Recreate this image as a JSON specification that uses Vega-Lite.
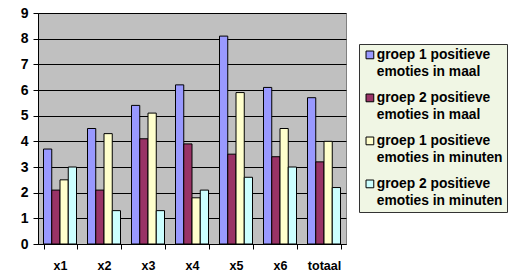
{
  "$schema": "https://vega.github.io/schema/vega-lite/v6.json",
  "autosize": "none",
  "width": 308,
  "height": 231,
  "padding": {"left": 38, "top": 13, "right": 175, "bottom": 27},
  "background": "white",
  "data": {
    "values": [
      {"cat": "x1", "serie": "groep 1 positieve emoties in maal", "v": 3.7},
      {"cat": "x1", "serie": "groep 2 positieve emoties in maal", "v": 2.1},
      {"cat": "x1", "serie": "groep 1 positieve emoties in minuten", "v": 2.5},
      {"cat": "x1", "serie": "groep 2 positieve emoties in minuten", "v": 3.0},
      {"cat": "x2", "serie": "groep 1 positieve emoties in maal", "v": 4.5},
      {"cat": "x2", "serie": "groep 2 positieve emoties in maal", "v": 2.1},
      {"cat": "x2", "serie": "groep 1 positieve emoties in minuten", "v": 4.3},
      {"cat": "x2", "serie": "groep 2 positieve emoties in minuten", "v": 1.3},
      {"cat": "x3", "serie": "groep 1 positieve emoties in maal", "v": 5.4},
      {"cat": "x3", "serie": "groep 2 positieve emoties in maal", "v": 4.1},
      {"cat": "x3", "serie": "groep 1 positieve emoties in minuten", "v": 5.1},
      {"cat": "x3", "serie": "groep 2 positieve emoties in minuten", "v": 1.3},
      {"cat": "x4", "serie": "groep 1 positieve emoties in maal", "v": 6.2},
      {"cat": "x4", "serie": "groep 2 positieve emoties in maal", "v": 3.9},
      {"cat": "x4", "serie": "groep 1 positieve emoties in minuten", "v": 1.8},
      {"cat": "x4", "serie": "groep 2 positieve emoties in minuten", "v": 2.1},
      {"cat": "x5", "serie": "groep 1 positieve emoties in maal", "v": 8.1},
      {"cat": "x5", "serie": "groep 2 positieve emoties in maal", "v": 3.5},
      {"cat": "x5", "serie": "groep 1 positieve emoties in minuten", "v": 5.9},
      {"cat": "x5", "serie": "groep 2 positieve emoties in minuten", "v": 2.6},
      {"cat": "x6", "serie": "groep 1 positieve emoties in maal", "v": 6.1},
      {"cat": "x6", "serie": "groep 2 positieve emoties in maal", "v": 3.4},
      {"cat": "x6", "serie": "groep 1 positieve emoties in minuten", "v": 4.5},
      {"cat": "x6", "serie": "groep 2 positieve emoties in minuten", "v": 3.0},
      {"cat": "totaal", "serie": "groep 1 positieve emoties in maal", "v": 5.7},
      {"cat": "totaal", "serie": "groep 2 positieve emoties in maal", "v": 3.2},
      {"cat": "totaal", "serie": "groep 1 positieve emoties in minuten", "v": 4.0},
      {"cat": "totaal", "serie": "groep 2 positieve emoties in minuten", "v": 2.2}
    ]
  },
  "mark": {"type": "bar", "stroke": "black", "strokeWidth": 1},
  "encoding": {
    "x": {
      "field": "cat", "type": "nominal", "sort": null,
      "scale": {"paddingInner": 0.25, "paddingOuter": 0.125},
      "axis": {
        "title": null, "labelAngle": 0, "tickBand": "extent",
        "domainColor": "black", "tickColor": "black", "tickSize": 5,
        "labelFont": "Liberation Sans", "labelFontWeight": "bold", "labelFontSize": 12.5,
        "labelColor": "black", "labelPadding": 10
      }
    },
    "xOffset": {
      "field": "serie", "type": "nominal", "sort": null
    },
    "y": {
      "field": "v", "type": "quantitative",
      "scale": {"domain": [0, 9], "nice": false},
      "axis": {
        "title": null, "values": [0,1,2,3,4,5,6,7,8,9],
        "grid": true, "gridColor": "black", "gridOpacity": 1, "gridWidth": 1,
        "domainColor": "black", "tickColor": "black", "tickSize": 5,
        "labelFont": "Liberation Sans", "labelFontWeight": "bold", "labelFontSize": 14,
        "labelColor": "black", "labelPadding": 5
      }
    },
    "color": {
      "field": "serie", "type": "nominal", "sort": null,
      "scale": {"range": ["#9999FF", "#993366", "#FFFFCC", "#CCFFFF"]},
      "legend": {
        "title": null, "orient": "none", "legendX": 321, "legendY": 31,
        "strokeColor": "#333333", "fillColor": "#F0F6E4", "padding": 4,
        "symbolType": "square", "symbolSize": 60, "symbolStrokeColor": "black", "symbolStrokeWidth": 1,
        "labelFont": "Liberation Sans", "labelFontWeight": "bold", "labelFontSize": 13.8,
        "labelColor": "black", "labelLimit": 200, "rowPadding": 11, "labelOffset": 0,
        "labelExpr": "[substring(datum.label,0,17), substring(datum.label,18)]"
      }
    }
  },
  "config": {
    "view": {"fill": "#C0C0C0", "stroke": "#808080"},
    "style": {"guide-label": {"lineHeight": 17}}
  }
}
